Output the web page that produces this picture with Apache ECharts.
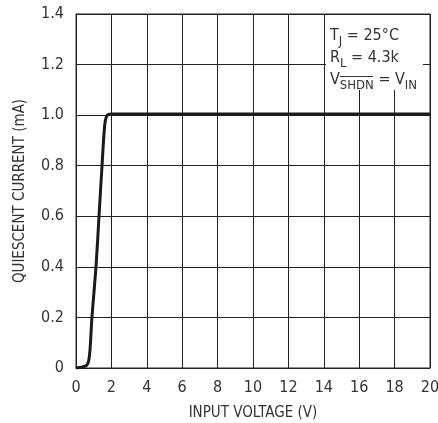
<!DOCTYPE html>
<html>
<head>
<meta charset="utf-8">
<script src="https://cdn.jsdelivr.net/npm/echarts@6/dist/echarts.min.js"></script>
<style>
  html, body { margin: 0; padding: 0; background: #fff; }
  #chart { width: 438px; height: 423px; }
</style>
</head>
<body>
<div id="chart"></div>
<script>
// input voltage (V) vs quiescent current (mA)
var voltage = [0, 0.3, 0.6, 0.72, 0.8, 0.9, 1.13, 1.3, 1.47, 1.62, 1.72, 1.85, 2.0, 5, 10, 15, 20];
var current = [0, 0.003, 0.01, 0.03, 0.08, 0.2, 0.4, 0.6, 0.8, 0.96, 0.995, 1.003, 1.005, 1.005, 1.005, 1.005, 1.005];
var xTicks = [0, 2, 4, 6, 8, 10, 12, 14, 16, 18, 20];
var yTicks = [0, 0.2, 0.4, 0.6, 0.8, 1.0, 1.2, 1.4];

var font = '"DejaVu Sans Condensed", "Liberation Sans Narrow", "Liberation Sans", Arial, sans-serif';
var pts = voltage.map(function (v, i) { return [v, current[i]]; });

var myChart = echarts.init(document.getElementById('chart'));
var option = {
  animation: false,
  backgroundColor: '#fff',
  grid: {
    left: 76, right: 8, top: 14, bottom: 55,
    outerBoundsMode: 'none',
    show: true, borderColor: '#222', borderWidth: 1
  },
  xAxis: {
    type: 'value',
    min: 0, max: 20, interval: 2,
    name: 'INPUT VOLTAGE (V)',
    nameLocation: 'middle',
    nameGap: 38,
    nameTextStyle: { fontFamily: font, fontSize: 15, color: '#333' },
    axisLine: { lineStyle: { color: '#222', width: 1 } },
    axisTick: { show: false },
    axisLabel: {
      fontFamily: font, fontSize: 16, color: '#333', margin: 12,
      formatter: function (v) { return xTicks.indexOf(v) >= 0 ? String(v) : ''; }
    },
    splitLine: { show: true, lineStyle: { color: '#222', width: 1 } }
  },
  yAxis: {
    type: 'value',
    min: 0, max: 1.4, interval: 0.2,
    name: 'QUIESCENT CURRENT (mA)',
    nameLocation: 'middle',
    nameGap: 48,
    nameTextStyle: { fontFamily: font, fontSize: 15, color: '#333' },
    axisLine: { lineStyle: { color: '#222', width: 1 } },
    axisTick: { show: false },
    axisLabel: {
      fontFamily: font, fontSize: 16, color: '#333', margin: 12,
      formatter: function (v) {
        var t = yTicks.find(function (y) { return Math.abs(y - v) < 1e-6; });
        if (t === undefined) return '';
        return t === 0 ? '0' : t.toFixed(1);
      }
    },
    splitLine: { show: true, lineStyle: { color: '#222', width: 1 } }
  },
  series: [
    {
      type: 'line',
      data: pts,
      smooth: 0.3,
      symbol: 'none',
      lineStyle: { color: '#1a1a1a', width: 3 }
    }
  ],
  graphic: [
    {
      type: 'rect', shape: { x: 326, y: 15, width: 97, height: 75 },
      style: { fill: '#fff' }, z: 10
    },
    {
      type: 'text', left: 330, top: 28, z: 11,
      style: {
        text: '{m|T}{s|J}{m| = 25°C}\n{m|R}{s|L}{m| = 4.3k}\n{m|V}{s|SHDN}{m| = V}{s|IN}',
        fill: '#333',
        rich: {
          m: { fontFamily: font, fontSize: 16, color: '#333', lineHeight: 22, verticalAlign: 'bottom' },
          s: { fontFamily: font, fontSize: 13, color: '#333', lineHeight: 22, verticalAlign: 'bottom', padding: [0, 0, -4, 0] }
        }
      }
    },
    {
      type: 'line', z: 11,
      shape: { x1: 340, y1: 76.5, x2: 373, y2: 76.5 },
      style: { stroke: '#333', lineWidth: 1 }
    }
  ]
};
myChart.setOption(option);
</script>
</body>
</html>
